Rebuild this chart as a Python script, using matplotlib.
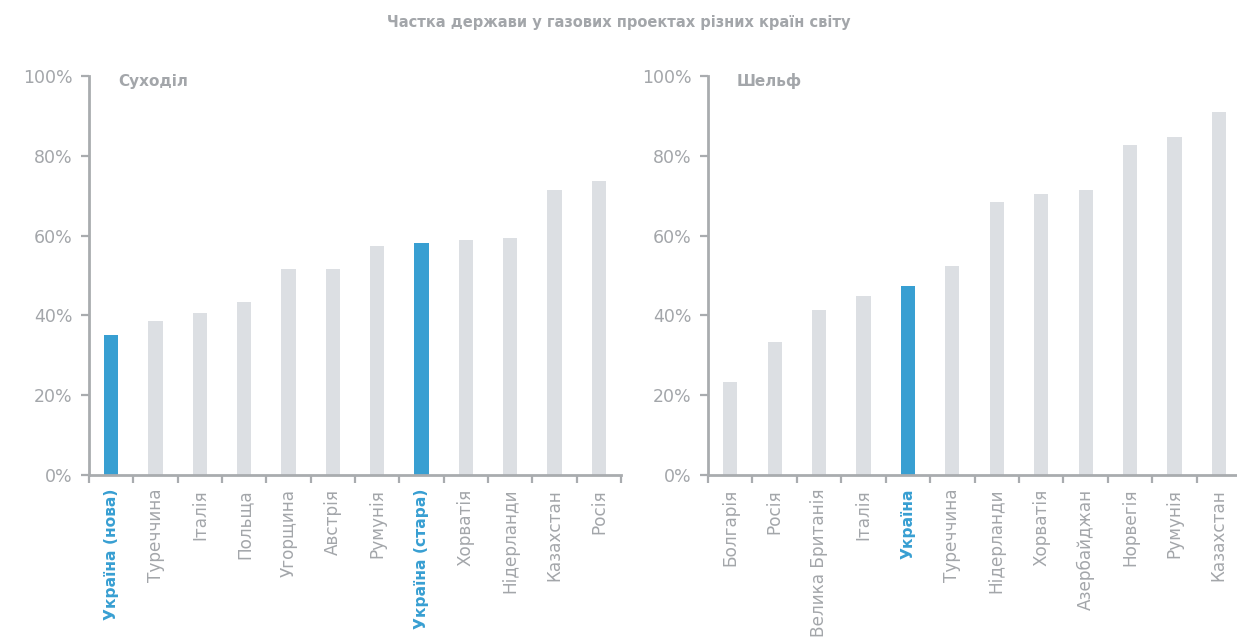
import matplotlib
matplotlib.use('Agg')
import matplotlib.pyplot as plt

plt.rcParams['font.family'] = ['DejaVu Sans']

onshore_labels = ['Україна (нова)', 'Туреччина', 'Італія', 'Польща', 'Угорщина',
                  'Австрія', 'Румунія', 'Україна (стара)', 'Хорватія',
                  'Нідерланди', 'Казахстан', 'Росія']
onshore_values = [35.1, 38.6, 40.6, 43.4, 51.6, 51.6, 57.4, 58.1, 58.9, 59.4, 71.4, 73.7]

shelf_labels = ['Болгарія', 'Росія', 'Велика Британія', 'Італія', 'Україна',
                'Туреччина', 'Нідерланди', 'Хорватія', 'Азербайджан',
                'Норвегія', 'Румунія', 'Казахстан']
shelf_values = [23.3, 33.3, 41.4, 44.9, 47.4, 52.4, 68.4, 70.4, 71.4, 82.7, 84.7, 91.0]

yticks = [0, 20, 40, 60, 80, 100]

blue = '#389fd2'
gray_bar = '#dcdfe3'
axis_gray = '#a9acaf'
text_gray = '#a3a6aa'


def draw_panel(ax, labels, values, header):
    n = len(labels)
    colors = [blue if l.startswith('Україна') else gray_bar for l in labels]
    ax.bar(range(n), values, width=0.32, color=colors, zorder=2)
    ax.set_xlim(-0.5, n - 0.5)
    ax.set_ylim(0, 100)
    for s in ['top', 'right']:
        ax.spines[s].set_visible(False)
    for s in ['left', 'bottom']:
        ax.spines[s].set_color(axis_gray)
        ax.spines[s].set_linewidth(2)
    ax.spines['left'].set_capstyle('projecting')
    ax.set_yticks(yticks)
    ax.set_yticklabels([f'{v}%' for v in yticks], fontsize=12.5, color=text_gray)
    ax.tick_params(axis='y', length=6, width=1.6, color=axis_gray, pad=6)
    # boundary ticks below the axis
    ax.set_xticks([i - 0.5 for i in range(n + 1)])
    ax.set_xticklabels([''] * (n + 1))
    ax.tick_params(axis='x', which='major', length=6, width=1.6, color=axis_gray)
    ax.set_xticks(range(n), minor=True)
    ax.set_xticklabels(labels, minor=True, rotation=90, fontsize=12.2)
    ax.tick_params(axis='x', which='minor', length=0, pad=10)
    for lbl in ax.get_xticklabels(minor=True):
        if lbl.get_text().startswith('Україна'):
            lbl.set_color(blue)
            lbl.set_fontweight('bold')
            lbl.set_fontsize(11.2)
        else:
            lbl.set_color(text_gray)
    ax.text(0.0545, 0.987, header, transform=ax.transAxes, fontsize=11,
            fontweight='bold', color=text_gray, va='center', ha='left')


fig = plt.figure(figsize=(12.37, 6.37), dpi=100)
ax1 = fig.add_axes([0.0720, 0.2543, 0.4301, 0.6264])
ax2 = fig.add_axes([0.5724, 0.2543, 0.4309, 0.6264])

draw_panel(ax1, onshore_labels, onshore_values, 'Суходіл')
draw_panel(ax2, shelf_labels, shelf_values, 'Шельф')

fig.text(0.5, 0.964, 'Частка держави у газових проектах різних країн світу',
         ha='center', va='center', fontsize=10.5, fontweight='bold', color=text_gray)

fig.savefig('out.png', dpi=100)
